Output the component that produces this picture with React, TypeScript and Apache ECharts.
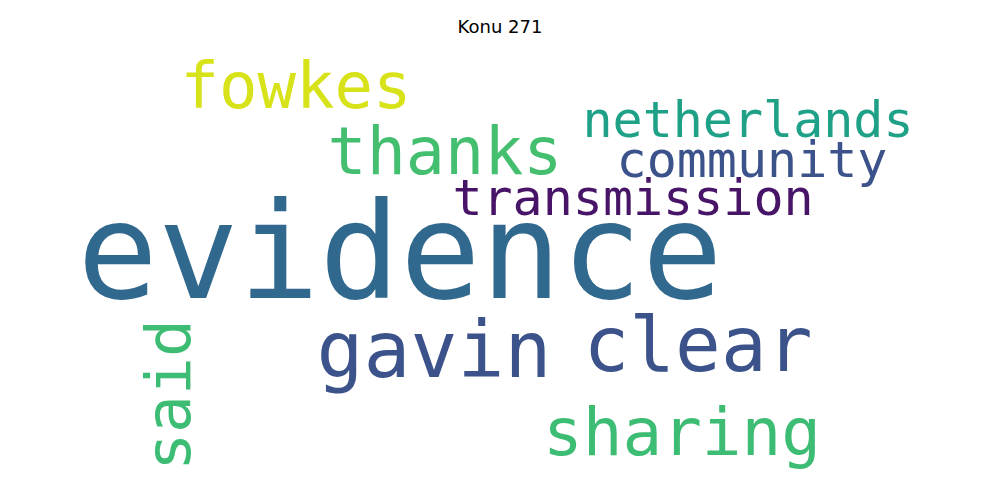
import { useEffect, useRef } from 'react';
import * as echarts from 'echarts';

const words = ['evidence', 'gavin', 'clear', 'sharing', 'said', 'thanks', 'fowkes', 'netherlands', 'community', 'transmission'];
const sizes = [134, 78, 76, 66, 63, 65, 64, 50, 50, 50];
const xs = [400, 434, 698, 682, 168, 445, 296, 748, 752, 633];
const ys = [252, 350, 344, 432, 395, 151, 86, 120, 160, 198];
const rotations = [0, 0, 0, 0, 90, 0, 0, 0, 0, 0];
const colors = ['#31688e', '#3b528b', '#3b528b', '#3dbc74', '#3dbc74', '#44bf70', '#d8e219', '#1fa187', '#3b528b', '#481467'];

export default function App() {
  const chartRef = useRef<HTMLDivElement>(null);

  useEffect(() => {
    if (!chartRef.current) return;
    document.body.style.margin = '0';
    const chart = echarts.init(chartRef.current, undefined, { renderer: 'svg' });
    chart.setOption({
      animation: false,
      backgroundColor: '#ffffff',
      title: {
        text: 'Konu 271',
        left: 'center',
        top: 12,
        textStyle: { fontFamily: 'DejaVu Sans', fontSize: 18, fontWeight: 'normal', color: '#000' },
      },
      grid: { left: 0, right: 0, top: 0, bottom: 0 },
      xAxis: { type: 'value', min: 0, max: 1000, show: false },
      yAxis: { type: 'value', min: 0, max: 500, inverse: true, show: false },
      series: [
        {
          type: 'scatter',
          symbolSize: 0,
          itemStyle: { opacity: 1 },
          data: words.map((w, i) => ({
            name: w,
            value: [xs[i], ys[i]],
            label: {
              show: true,
              formatter: '{b}',
              position: 'inside',
              fontSize: sizes[i],
              rotate: rotations[i],
              color: colors[i],
              opacity: 1,
              fontFamily: 'DejaVu Sans Mono',
              align: 'center',
              verticalAlign: 'middle',
            },
          })),
        },
      ],
    });
    return () => chart.dispose();
  }, []);

  return <div ref={chartRef} style={{ width: 1000, height: 500 }} />;
}
